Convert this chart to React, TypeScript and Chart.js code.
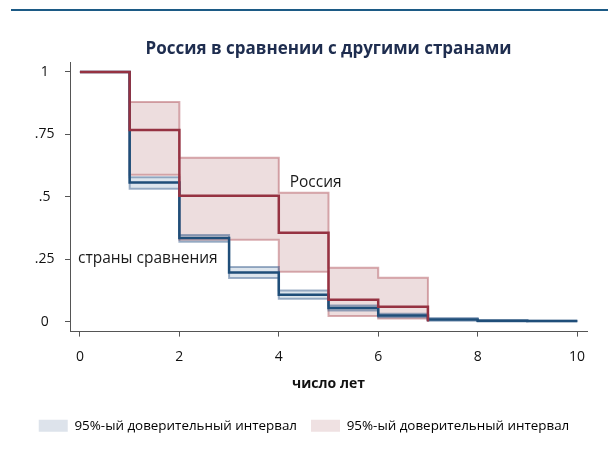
import React, { useEffect, useRef } from "react";
import { Chart, registerables } from "chart.js";

Chart.register(...registerables);

const FONT = "'Open Sans', 'Noto Sans', sans-serif";

// Russia (step points: x where value changes, y after change)
const russiaX = [0, 1, 2, 4, 5, 6, 7];
const russiaY = [1, 0.768, 0.504, 0.356, 0.088, 0.06, 0.0];
const russiaUpper = [1, 0.88, 0.656, 0.516, 0.216, 0.176, 0.012];
const russiaLower = [1, 0.588, 0.328, 0.2, 0.022, 0.012, 0.012];

// Comparison countries
const compX = [0, 1, 2, 3, 4, 5, 6, 7, 8, 9, 10];
const compY = [1, 0.557, 0.335, 0.197, 0.108, 0.055, 0.024, 0.008, 0.003, 0.002, 0.002];
const compUpper = [1, 0.578, 0.347, 0.219, 0.125, 0.065, 0.032, 0.014, 0.006, 0.003, 0.002];
const compLower = [1, 0.532, 0.32, 0.175, 0.092, 0.045, 0.017, 0.003, 0.0, 0.001, 0.002];

const xTicks = [0, 2, 4, 6, 8, 10];
const yTicks = [0, 0.25, 0.5, 0.75, 1];
const yTickLabels = ["0", ".25", ".5", ".75", "1"];

const chartTitle = "Россия в сравнении с другими странами";
const xTitle = "число лет";
const legendLabels = ["95%-ый доверительный интервал", "95%-ый доверительный интервал"];
const russiaLabel = { text: "Россия", x: 4.22, y: 0.556 };
const compLabel = { text: "страны сравнения", x: -0.04, y: 0.252 };

const RED = "#963242";
const BLUE = "#1f4e79";
const PINK_FILL = "rgba(185,120,125,0.25)";
const PINK_BORDER = "rgba(170,70,80,0.45)";
const BLUE_FILL = "rgba(100,135,175,0.22)";
const BLUE_BORDER = "rgba(40,80,130,0.45)";

const pts = (xs: number[], ys: number[]) => xs.map((x, i) => ({ x, y: ys[i] }));

const decorPlugin = {
  id: "decor",
  afterDraw(chart: any) {
    const { ctx, chartArea, scales } = chart;
    ctx.save();
    // top rule
    ctx.strokeStyle = "#1c5a85";
    ctx.lineWidth = 2;
    ctx.beginPath();
    ctx.moveTo(11, 10);
    ctx.lineTo(608, 10);
    ctx.stroke();
    // title
    ctx.fillStyle = "#1e2d4f";
    ctx.font = `bold 17px ${FONT}`;
    ctx.textAlign = "center";
    ctx.textBaseline = "alphabetic";
    ctx.fillText(chartTitle, (chartArea.left + chartArea.right) / 2, 54);
    // line labels
    ctx.fillStyle = "#1a1a1a";
    ctx.font = `15.5px ${FONT}`;
    ctx.textAlign = "left";
    ctx.textBaseline = "middle";
    for (const l of [russiaLabel, compLabel]) {
      ctx.fillText(l.text, scales.x.getPixelForValue(l.x), scales.y.getPixelForValue(l.y));
    }
    ctx.restore();
  },
};

export default function App() {
  const ref = useRef<HTMLCanvasElement>(null);
  useEffect(() => {
    if (!ref.current) return;
    const chart = new Chart(ref.current, {
      type: "line",
      data: {
        datasets: [
          {
            label: "Россия",
            data: pts(russiaX, russiaY),
            stepped: true,
            borderColor: RED,
            borderWidth: 2.5,
            pointRadius: 0,
            fill: false,
            order: 0,
          },
          {
            label: "страны сравнения",
            data: pts(compX, compY),
            stepped: true,
            borderColor: BLUE,
            borderWidth: 2.5,
            pointRadius: 0,
            fill: false,
            order: 1,
          },
          {
            label: "comp upper",
            data: pts(compX, compUpper),
            stepped: true,
            borderColor: BLUE_BORDER,
            backgroundColor: BLUE_FILL,
            borderWidth: 2,
            pointRadius: 0,
            fill: 3,
            order: 2,
          },
          {
            label: "comp lower",
            data: pts(compX, compLower),
            stepped: true,
            borderColor: BLUE_BORDER,
            borderWidth: 2,
            pointRadius: 0,
            fill: false,
            order: 2,
          },
          {
            label: "russia upper",
            data: pts(russiaX, russiaUpper),
            stepped: true,
            borderColor: PINK_BORDER,
            backgroundColor: PINK_FILL,
            borderWidth: 2,
            pointRadius: 0,
            fill: 5,
            order: 3,
          },
          {
            label: "russia lower",
            data: pts(russiaX, russiaLower),
            stepped: true,
            borderColor: PINK_BORDER,
            borderWidth: 2,
            pointRadius: 0,
            fill: false,
            order: 3,
          },
        ],
      },
      options: {
        animation: false,
        responsive: false,
        devicePixelRatio: 1,
        layout: { padding: { top: 62, right: 21, bottom: 13.5, left: 21 } },
        plugins: {
          title: { display: false },
          tooltip: { enabled: false },
          legend: {
            display: true,
            position: "bottom",
            onClick: () => {},
            labels: {
              boxWidth: 29,
              boxHeight: 12,
              padding: 14,
              color: "#222",
              font: { family: FONT, size: 13.4 },
              generateLabels: () => [
                { text: legendLabels[0], fillStyle: "#dde3eb", strokeStyle: "#dde3eb", lineWidth: 0, hidden: false, datasetIndex: 2 },
                { text: legendLabels[1], fillStyle: "#efe1e2", strokeStyle: "#efe1e2", lineWidth: 0, hidden: false, datasetIndex: 4 },
              ],
            },
          },
        },
        scales: {
          x: {
            type: "linear",
            min: -0.2,
            max: 10.2,
            afterBuildTicks: (s: any) => {
              s.ticks = xTicks.map((v) => ({ value: v }));
            },
            afterFit: (s: any) => {
              s.height = 73.5;
            },
            ticks: {
              autoSkip: false,
              maxRotation: 0,
              padding: 12,
              color: "#111",
              font: { family: FONT, size: 14 },
              callback: (v: any) => String(v),
            },
            grid: { display: true, drawOnChartArea: false, drawTicks: true, tickLength: 5, color: "#555", lineWidth: 1 },
            border: { display: true, color: "#555", width: 1 },
            title: {
              display: true,
              text: xTitle,
              color: "#111",
              font: { family: FONT, size: 14, weight: "bold" },
              padding: { top: 0, bottom: 13 },
            },
          },
          y: {
            type: "linear",
            min: -0.04,
            max: 1.04,
            afterBuildTicks: (s: any) => {
              s.ticks = yTicks.map((v) => ({ value: v }));
            },
            afterFit: (s: any) => {
              s.width = 49;
            },
            ticks: {
              crossAlign: "center",
              padding: 10.5,
              color: "#111",
              font: { family: FONT, size: 14 },
              callback: (v: any) => yTickLabels[yTicks.indexOf(v)] ?? "",
            },
            grid: { display: true, drawOnChartArea: false, drawTicks: true, tickLength: 5, color: "#555", lineWidth: 1 },
            border: { display: true, color: "#555", width: 1 },
          },
        },
      },
      plugins: [decorPlugin],
    } as any);
    return () => chart.destroy();
  }, []);
  return (
    <div style={{ position: "fixed", left: 0, top: 0, width: 608, height: 456, background: "#fff" }}>
      <canvas ref={ref} width={608} height={456} style={{ display: "block" }} />
    </div>
  );
}
